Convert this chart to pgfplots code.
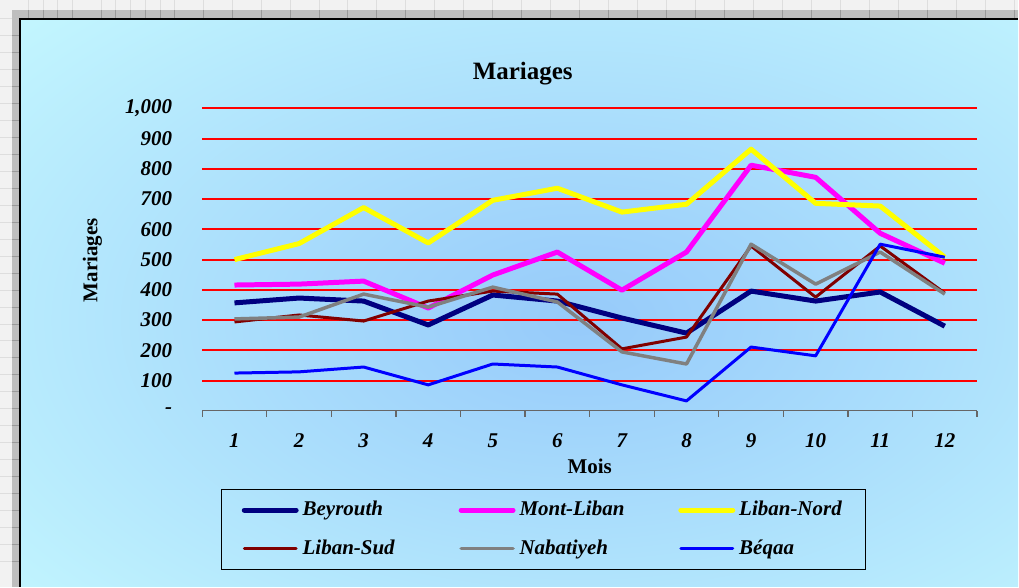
\documentclass[border=0pt]{standalone}
\usepackage{fontspec}
\setmainfont{Liberation Serif}
\usepackage{pgfplots}
\pgfplotsset{compat=1.18}
\definecolor{sheetbg}{RGB}{242,242,242}
\definecolor{sheetline}{RGB}{222,222,222}
\definecolor{bandgray}{RGB}{190,190,190}
\definecolor{chartbg}{RGB}{204,255,255}
\definecolor{chartmid}{RGB}{150,202,250}
\definecolor{cBeyrouth}{RGB}{0,0,128}
\definecolor{cMont}{RGB}{255,0,255}
\definecolor{cNord}{RGB}{255,255,0}
\definecolor{cSud}{RGB}{128,0,0}
\definecolor{cNaba}{RGB}{128,128,128}
\definecolor{cBeqaa}{RGB}{0,0,255}
\newcommand\lbl{\fontsize{10.5}{12.6}\selectfont\bfseries\itshape}
\begin{document}
\begin{tikzpicture}[x=0.5pt,y=0.5pt]
% worksheet behind the chart
\fill[sheetbg] (0,0) rectangle (1019,587);
\foreach \yy in {25,42,59,76,93,110,127,144,161,178,195,212,229,246,263,280,297,314,331,348,365,382,399,416,433,450,467,484,501,518,535,552,569}
  \draw[sheetline, line width=0.5pt] (0,\yy) -- (12,\yy);
\foreach \xx in {28,43,57,72,101,115,130,145,160,174,203,232,261,290,319,348,377,406,435,464,493,522,551,580,609,638,667,696,725,754,783,812,841,870,899,928,957,986,1015}
  \draw[sheetline, line width=0.5pt] (\xx,577) -- (\xx,587);
\fill[bandgray] (12,0) rectangle (1019,577);
\foreach \xx in {28,43,57,72,101,115,130,145,160,174,203,232,261,290,319,348,377,406,435,464,493,522,551,580,609,638,667,696,725,754,783,812,841,870,899,928,957,986,1015}
  \draw[black!40, line width=0.5pt] (\xx,568) -- (\xx,577);
\foreach \yy in {25,42,59,76,93,110,127,144,161,178,195,212,229,246,263,280,297,314,331,348,365,382,399,416,433,450,467,484,501,518,535,552}
  \draw[black!40, line width=0.5pt] (12,\yy) -- (20,\yy);
% chart area
\fill[chartbg] (20,0) rectangle (1019,568);
\begin{scope}
  \clip (21,0) rectangle (1019,567);
  \shade[inner color=chartmid, outer color=chartbg] (580,267) ellipse (920 and 540);
\end{scope}
\draw[black, line width=1pt] (20,0) -- (20,568) -- (1019,568);

\node[font=\fontsize{12.5}{15}\selectfont\bfseries] at (523,514) {Mariages};
\node[font=\fontsize{10.5}{12.6}\selectfont\bfseries] at (590,120) {Mois};
\node[font=\fontsize{10.5}{12.6}\selectfont\bfseries, rotate=90] at (92,327) {Mariages};

\begin{axis}[
  at={(101pt,88pt)}, anchor=south west,
  scale only axis, width=388pt, height=151.5pt,
  xmin=0.5, xmax=12.5, ymin=0, ymax=1000,
  axis x line*=bottom, axis y line*=left,
  x axis line style={draw=black!60, -, line width=0.6pt},
  y axis line style={draw=none},
  xtick={1,2,...,12},
  xticklabels={1,2,3,4,5,6,7,8,9,10,11,12},
  minor xtick={0.5,1.5,...,12.5},
  major tick length=0pt, minor tick length=3pt, tick align=outside,
  minor tick style={draw=black!60, line width=0.6pt},
  ytick={100,200,...,1000},
  yticklabels={100,200,300,400,500,600,700,800,900,{1,000}},
  extra y ticks={0}, extra y tick labels={-},
  extra y tick style={grid=none},
  ymajorgrids, major grid style={red, line width=1pt},
  tick label style={font=\lbl},
  yticklabel style={anchor=east, xshift=-11.5pt},
  xticklabel style={anchor=north, yshift=-8pt},
  legend columns=3,
  legend cell align=left,
  legend image code/.code={\draw[#1, line cap=round] (0pt,0pt) -- (26pt,0pt);},
  legend style={at={(0.0245,-0.2574)}, anchor=north west, draw=black,
    line width=0.6pt, fill=none, font=\lbl, inner xsep=10pt, inner ysep=4pt,
    row sep=6.5pt,
    /tikz/column 2/.style={column sep=30pt},
    /tikz/column 4/.style={column sep=25pt}},
  every axis plot/.append style={line join=round},
]
\addplot[cBeyrouth, line width=2.5pt] coordinates {
  (1,357) (2,373) (3,363) (4,284) (5,383) (6,363)
  (7,307) (8,257) (9,396) (10,363) (11,393) (12,280)};
\addlegendentry{Beyrouth}
\addplot[cMont, line width=2.5pt] coordinates {
  (1,416) (2,419) (3,429) (4,340) (5,449) (6,525)
  (7,399) (8,525) (9,812) (10,772) (11,587) (12,488)};
\addlegendentry{Mont-Liban}
\addplot[cNord, line width=2.5pt] coordinates {
  (1,500) (2,553) (3,672) (4,555) (5,696) (6,736)
  (7,657) (8,683) (9,865) (10,686) (11,677) (12,508)};
\addlegendentry{Liban-Nord}
\addplot[cSud, line width=1.5pt] coordinates {
  (1,294) (2,317) (3,297) (4,363) (5,396) (6,386)
  (7,205) (8,244) (9,545) (10,376) (11,545) (12,389)};
\addlegendentry{Liban-Sud}
\addplot[cNaba, line width=1.75pt] coordinates {
  (1,304) (2,310) (3,386) (4,343) (5,409) (6,360)
  (7,195) (8,155) (9,551) (10,419) (11,525) (12,386)};
\addlegendentry{Nabatiyeh}
\addplot[cBeqaa, line width=1.5pt] coordinates {
  (1,125) (2,129) (3,145) (4,86) (5,155) (6,145)
  (7,86) (8,33) (9,211) (10,182) (11,551) (12,508)};
\addlegendentry{Béqaa}
\end{axis}
\end{tikzpicture}
\end{document}
